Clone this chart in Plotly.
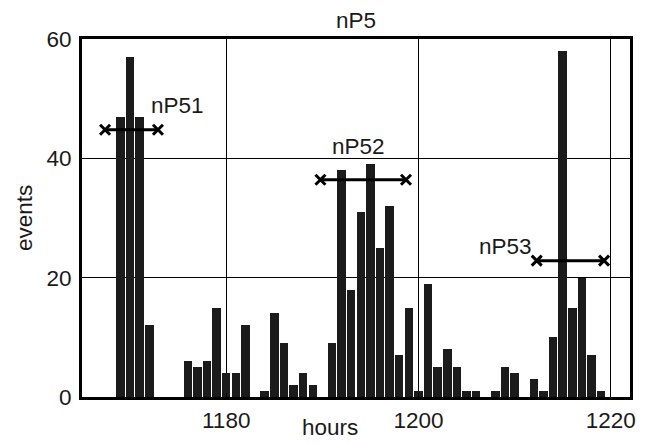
import plotly.graph_objects as go

hours = list(range(1169, 1220))
events = [47, 57, 47, 12, 0, 0, 0, 6, 5, 6, 15, 4, 4, 12, 0, 1, 14, 9, 2, 4,
          2, 0, 9, 38, 18, 31, 39, 25, 32, 7, 15, 1, 19, 5, 8, 5, 1, 1, 0, 1,
          5, 4, 0, 3, 1, 10, 58, 15, 20, 7, 1]

group_names = ["nP51", "nP52", "nP53"]
group_start = [1167.4, 1189.8, 1212.3]
group_end = [1172.9, 1198.7, 1219.3]
group_level = [44.8, 36.4, 22.85]
label_x = [1174.9, 1193.8, 1209.0]
label_y = [48.9, 42.0, 25.2]

x_ticks = [1180, 1200, 1220]
y_ticks = [0, 20, 40, 60]

FONT = "Liberation Sans, Arial, sans-serif"
FS = 22.5

fig = go.Figure()
fig.add_trace(go.Bar(x=hours, y=events, width=0.88,
                     marker=dict(color="#1b1b1b", line=dict(width=0)),
                     showlegend=False))

for s, e, lv in zip(group_start, group_end, group_level):
    fig.add_trace(go.Scatter(x=[s, e], y=[lv, lv], mode="lines+markers",
                             line=dict(color="black", width=3),
                             marker=dict(symbol="x-thin", size=10,
                                         line=dict(color="black", width=3)),
                             showlegend=False))

for name, lx, ly in zip(group_names, label_x, label_y):
    fig.add_annotation(x=lx, y=ly, text=name, showarrow=False,
                       font=dict(family=FONT, size=FS, color="#1a1a1a"),
                       xanchor="center", yanchor="middle")

fig.add_annotation(xref="paper", yref="paper", x=0.5, y=1.0, yshift=19,
                   text="nP5", showarrow=False,
                   font=dict(family=FONT, size=FS, color="#1a1a1a"),
                   xanchor="center", yanchor="middle")
fig.add_annotation(xref="paper", yref="paper", x=0.453, y=0, yshift=-30,
                   text="hours", showarrow=False,
                   font=dict(family=FONT, size=FS, color="#1a1a1a"),
                   xanchor="center", yanchor="middle")
fig.add_annotation(xref="paper", yref="paper", x=0, xshift=-58, y=0.5,
                   text="events", showarrow=False, textangle=-90,
                   font=dict(family=FONT, size=FS, color="#1a1a1a"),
                   xanchor="center", yanchor="middle")

axis_common = dict(showline=True, linewidth=3, linecolor="black", mirror="ticks",
                   ticks="inside", ticklen=4, tickwidth=1, tickcolor="black",
                   showgrid=True, gridcolor="black", gridwidth=1, zeroline=False,
                   tickfont=dict(family=FONT, size=FS, color="#1a1a1a"))

fig.update_xaxes(range=[1165, 1222], tickvals=x_ticks, ticktext=[str(v) for v in x_ticks],
                 ticklabelstandoff=1, **axis_common)
fig.update_yaxes(range=[0, 60], tickvals=y_ticks, ticktext=[str(v) for v in y_ticks],
                 ticklabelstandoff=3, **axis_common)

fig.update_layout(width=647, height=444, margin=dict(l=82, r=11, t=39, b=40),
                  plot_bgcolor="white", paper_bgcolor="white", bargap=0,
                  font=dict(family=FONT, color="#1a1a1a"))

fig.write_html("out.html")
